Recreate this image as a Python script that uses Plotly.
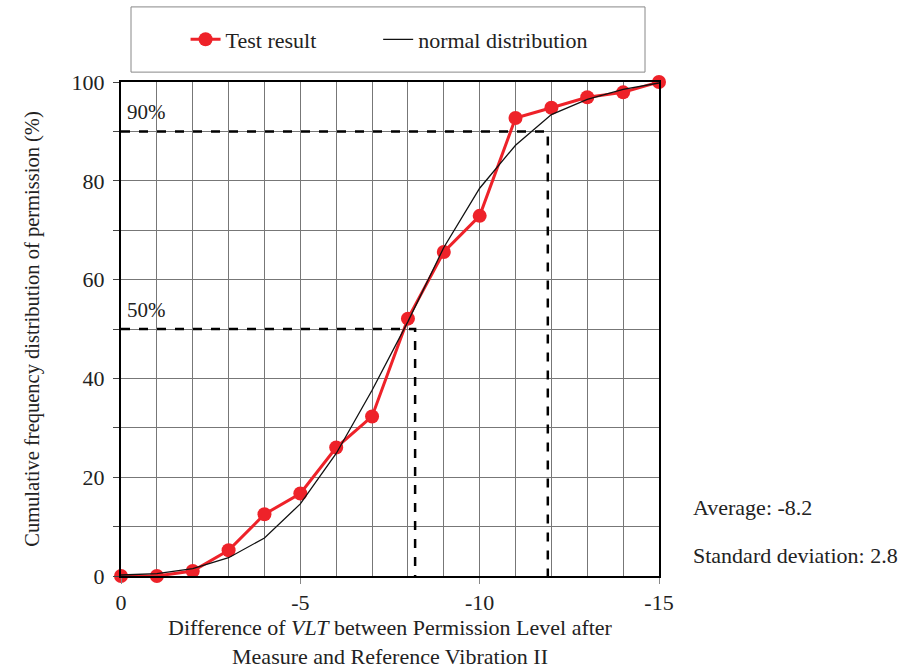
import plotly.graph_objects as go

# ---- data ----
diff_levels = [0, -1, -2, -3, -4, -5, -6, -7, -8, -9, -10, -11, -12, -13, -14, -15]
test_result = [0, 0, 1.0, 5.2, 12.5, 16.7, 26.0, 32.3, 52.1, 65.6, 72.9, 92.7, 94.8, 96.9, 97.9, 100]
normal_dist = [0.2, 0.5, 1.5, 3.7, 7.7, 14.6, 24.8, 37.6, 51.5, 66.5, 78.5, 87.2, 93.4, 96.5, 98.5, 99.8]

p90_x = [0, -11.9, -11.9]
p90_y = [90, 90, 0]
p50_x = [0, -8.2, -8.2]
p50_y = [50, 50, 0]

x_ticks = [0, -5, -10, -15]
x_tick_labels = ["0", "-5", "-10", "-15"]
y_ticks = [0, 20, 40, 60, 80, 100]

FONT = "Liberation Serif, Times New Roman, serif"

fig = go.Figure()

fig.add_trace(go.Scatter(x=p90_x, y=p90_y, mode="lines", showlegend=False,
                         line=dict(color="black", width=2.5, dash="dash"), hoverinfo="skip"))
fig.add_trace(go.Scatter(x=p50_x, y=p50_y, mode="lines", showlegend=False,
                         line=dict(color="black", width=2.5, dash="dash"), hoverinfo="skip"))

fig.add_trace(go.Scatter(x=diff_levels, y=test_result, mode="lines+markers", name="Test result",
                         line=dict(color="#ee2229", width=3), legend="legend",
                         marker=dict(color="#ee2229", size=14), cliponaxis=False))
fig.add_trace(go.Scatter(x=diff_levels, y=normal_dist, mode="lines", name="normal distribution",
                         line=dict(color="#111", width=1.3), legend="legend2"))

fig.add_annotation(x=-0.1, y=94.0, text="90%", showarrow=False, xanchor="left", yanchor="middle",
                   font=dict(family=FONT, size=21, color="#222"))
fig.add_annotation(x=-0.1, y=53.9, text="50%", showarrow=False, xanchor="left", yanchor="middle",
                   font=dict(family=FONT, size=21, color="#222"))

fig.add_annotation(xref="paper", yref="paper", x=1.059, y=0.1377, text="Average: -8.2",
                   showarrow=False, xanchor="left", yanchor="middle",
                   font=dict(family=FONT, size=22, color="#222"))
fig.add_annotation(xref="paper", yref="paper", x=1.059, y=0.0405, text="Standard deviation: 2.8",
                   showarrow=False, xanchor="left", yanchor="middle",
                   font=dict(family=FONT, size=22, color="#222"))

# legend box
fig.add_shape(type="rect", xref="paper", yref="paper", x0=0.0186, x1=0.974, y0=1.020, y1=1.152,
              line=dict(color="#888", width=1), fillcolor="white")

leg_common = dict(orientation="h", y=1.086, xanchor="left", yanchor="middle",
                  bgcolor="rgba(0,0,0,0)", borderwidth=0,
                  font=dict(family=FONT, size=22, color="#222"))

fig.update_layout(
    width=921, height=672,
    margin=dict(l=121, r=262, t=82, b=96),
    plot_bgcolor="white", paper_bgcolor="white",
    font=dict(family=FONT, size=20, color="#222"),
    legend=dict(x=0.12, **leg_common),
    legend2=dict(x=0.478, **leg_common),
    showlegend=True,
)

fig.update_xaxes(
    range=[0, -15], tickvals=x_ticks, ticktext=x_tick_labels,
    showgrid=True, gridcolor="#777", gridwidth=1,
    minor=dict(dtick=1, showgrid=True, gridcolor="#777", gridwidth=1, ticks=""),
    ticks="outside", ticklen=6, tickcolor="#888",
    showline=True, linecolor="black", linewidth=2, mirror=True,
    zeroline=False, tickfont=dict(family=FONT, size=22),
    title=dict(text="Difference of <i>VLT</i> between Permission Level after<br>Measure and Reference Vibration II",
               font=dict(family=FONT, size=22), standoff=2),
)
fig.update_yaxes(
    range=[0, 100], tickvals=y_ticks,
    showgrid=True, gridcolor="#777", gridwidth=1,
    minor=dict(dtick=10, showgrid=True, gridcolor="#777", gridwidth=1, ticks="outside", ticklen=6, tickcolor="#444"),
    ticks="outside", ticklen=6, tickcolor="#444",
    showline=True, linecolor="black", linewidth=2, mirror=True,
    zeroline=False, tickfont=dict(family=FONT, size=22), ticklabelstandoff=4,
    title=dict(text="Cumulative frequency distribution of permission (%)",
               font=dict(family=FONT, size=20.5), standoff=26),
)

fig.write_html("out.html")
